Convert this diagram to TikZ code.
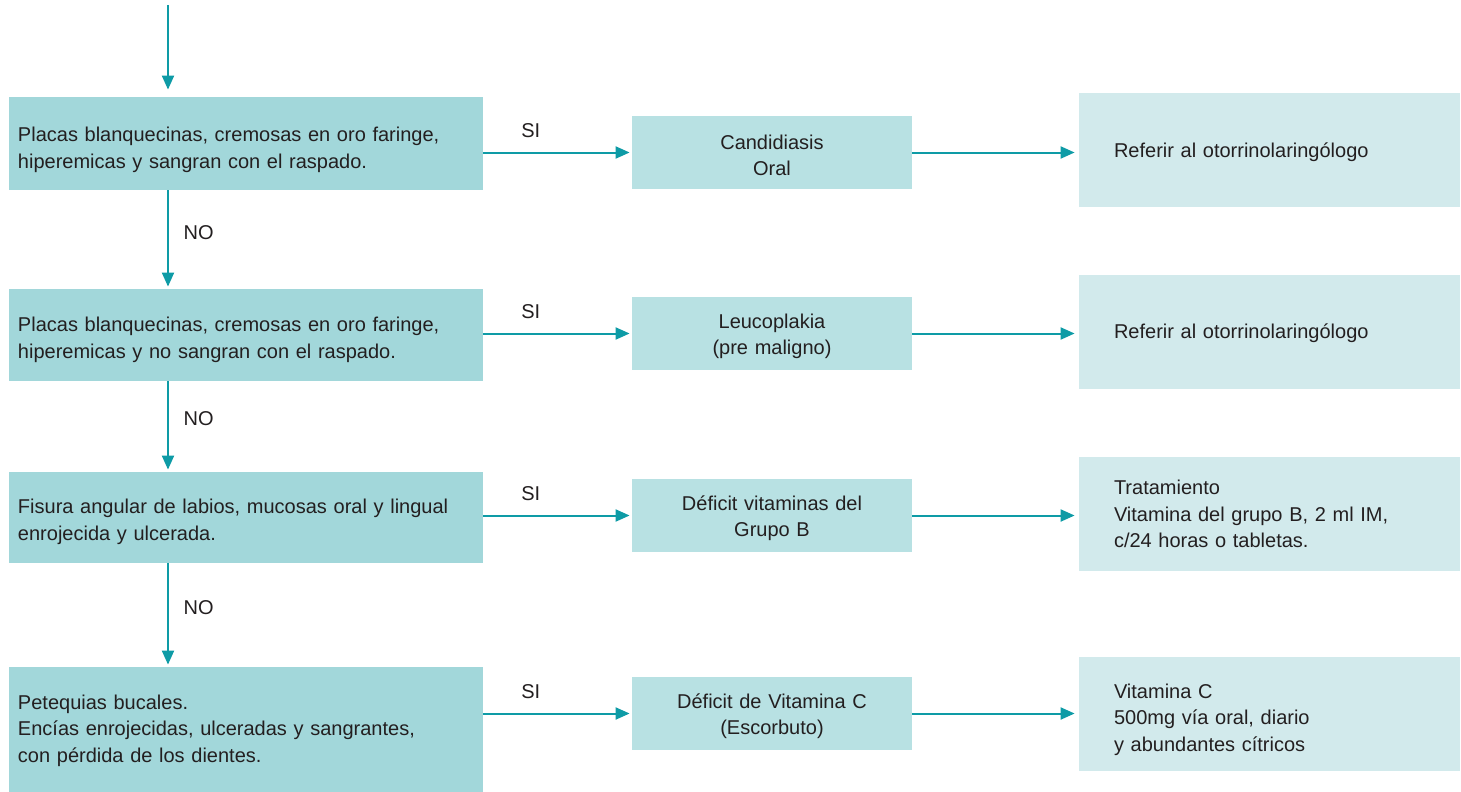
\documentclass[tikz,border=0pt]{standalone}
\usepackage{fontspec}
\setmainfont{Liberation Sans}
\usepackage{xcolor}
\usetikzlibrary{arrows.meta, positioning, calc}

\definecolor{qfill}{HTML}{A2D7DA}
\definecolor{dxfill}{HTML}{B8E1E3}
\definecolor{txfill}{HTML}{D2EAEC}
\definecolor{flowteal}{HTML}{0E9BA6}
\definecolor{ink}{HTML}{231F20}

\begin{document}
\begin{tikzpicture}[
  x=0.5pt, y=-0.5pt,
  every node/.style={text=ink, font=\fontsize{10}{13.3}\selectfont},
  qbox/.style={fill=qfill, minimum width=237pt, inner xsep=4.5pt, inner ysep=0pt,
               text width=228pt, align=left, text height=13.5pt},
  dxbox/.style={fill=dxfill, minimum width=140pt, minimum height=36.5pt, inner ysep=0pt,
                text width=130pt, align=center, text height=10pt},
  txbox/.style={fill=txfill, minimum width=190.5pt, minimum height=57pt, inner xsep=17.5pt,
                inner ysep=0pt, text width=155.5pt, align=left},
  flow/.style={-{Triangle[length=7pt, width=6pt]}, line width=1pt, flowteal, shorten >=1pt},
  lbl/.style={inner sep=3.33pt}
]
  \useasboundingbox (0,0) rectangle (1461,792);

  % questions (left column)
  \node[qbox, minimum height=46.5pt] (q1) at (246,143.5) {Placas blanquecinas, cremosas en oro faringe,\\hiperemicas y sangran con el raspado.};
  \node[qbox, minimum height=46pt, text height=12pt] (q2) at (246,335) {Placas blanquecinas, cremosas en oro faringe,\\hiperemicas y no sangran con el raspado.};
  \node[qbox, minimum height=45.5pt, text height=11.3pt] (q3) at (246,517.5) {Fisura angular de labios, mucosas oral y lingual\\enrojecida y ulcerada.};
  \node[qbox, minimum height=62.5pt, text height=8.5pt] (q4) at (246,729.5) {Petequias bucales.\\Encías enrojecidas, ulceradas y sangrantes,\\con pérdida de los dientes.};

  % diagnoses (middle column)
  \node[dxbox] (d1) at (772,152.5) {Candidiasis\\Oral};
  \node[dxbox] (d2) at (772,333.5) {Leucoplakia\\(pre maligno)};
  \node[dxbox] (d3) at (772,515.5) {Déficit vitaminas del\\Grupo B};
  \node[dxbox] (d4) at (772,713.5) {Déficit de Vitamina C\\(Escorbuto)};

  % treatment (right column)
  \node[txbox, text height=9.5pt] (t1) at (1269.5,150) {Referir al otorrinolaringólogo};
  \node[txbox, text height=9.5pt] (t2) at (1269.5,331.5) {Referir al otorrinolaringólogo};
  \node[txbox] (t3) at (1269.5,514) {Tratamiento\\Vitamina del grupo B, 2 ml IM,\\c/24 horas o tabletas.};
  \node[txbox, text height=13pt] (t4) at (1269.5,714) {Vitamina C\\500mg vía oral, diario\\y abundantes cítricos};

  % NO branch
  \coordinate (start) at (168,5);
  \draw[flow, shorten >=3.5pt] (start) -- (q1.north -| start);
  \draw[flow] (q1.south -| start) -- node[lbl, pos=0.43, right=4pt] (no1) {NO} (q2.north -| start);
  \draw[flow] (q2.south -| start) -- node[lbl, pos=0.41, right=4pt] (no2) {NO} (q3.north -| start);
  \draw[flow] (q3.south -| start) -- node[lbl, pos=0.43, right=4pt] (no3) {NO} (q4.north -| start);

  % SI branch
  \draw[flow] (q1.east |- d1.west) -- node[lbl, pos=0.32, above=3.5pt] (si1) {SI} (d1.west);
  \draw[flow] (q2.east |- d2.west) -- node[lbl, pos=0.32, above=3.5pt] (si2) {SI} (d2.west);
  \draw[flow] (q3.east |- d3.west) -- node[lbl, pos=0.32, above=3.5pt] (si3) {SI} (d3.west);
  \draw[flow] (q4.east |- d4.west) -- node[lbl, pos=0.32, above=3.5pt] (si4) {SI} (d4.west);

  \draw[flow, shorten >=2pt] (d1.east) -- (t1.west |- d1.east);
  \draw[flow, shorten >=2pt] (d2.east) -- (t2.west |- d2.east);
  \draw[flow, shorten >=2pt] (d3.east) -- (t3.west |- d3.east);
  \draw[flow, shorten >=2pt] (d4.east) -- (t4.west |- d4.east);
\end{tikzpicture}
\end{document}
